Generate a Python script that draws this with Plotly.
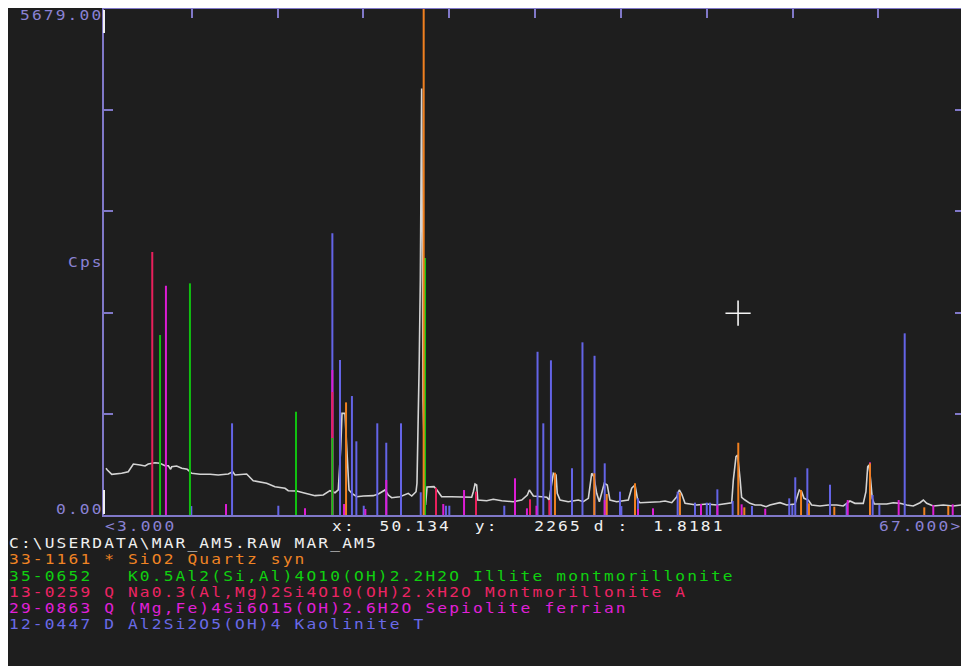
import plotly.graph_objects as go

# ---------------- data ----------------
# measured pattern (2-theta, counts per second)
meas_2theta = [3.00, 3.10, 3.43, 4.17, 4.66, 5.04, 5.54, 5.91, 6.15, 6.65, 7.03, 7.40, 7.65, 7.82, 7.90,
               8.27, 8.65, 9.06, 9.39, 10.01, 10.76, 11.37, 12.12, 12.45, 12.62, 13.49, 13.98, 14.48,
               14.98, 15.60, 16.35, 16.59, 17.22, 17.71, 18.09, 18.59, 19.20, 19.70, 20.08, 20.32,
               20.50, 20.60, 20.82, 20.93, 21.12, 21.34, 21.70, 22.19, 22.93, 23.31, 23.81, 24.05,
               24.30, 24.92, 25.30, 25.54, 25.80, 26.12, 26.19, 26.29, 26.36, 26.44, 26.47, 26.54,
               26.64, 26.83, 26.94, 27.46, 27.68, 28.03, 28.78, 29.64, 30.27, 30.39, 30.52, 30.64,
               30.72, 31.39, 31.88, 32.51, 33.37, 34.00, 34.42, 34.57, 34.74, 34.87, 35.49, 35.87,
               36.04, 36.18, 36.36, 36.56, 36.65, 36.86, 37.47, 38.22, 38.59, 38.97, 39.22, 39.39,
               39.59, 39.79, 39.97, 40.16, 40.38, 40.58, 41.08, 41.95, 42.20, 42.45, 42.65, 42.82,
               44.31, 44.69, 45.19, 45.56, 45.75, 45.93, 46.18, 47.05, 47.80, 48.54, 49.66, 49.78,
               49.98, 50.10, 50.28, 50.40, 50.65, 51.02, 51.40, 51.84, 52.22, 52.51, 53.26, 53.76,
               54.38, 54.55, 54.70, 54.88, 55.05, 55.37, 55.62, 56.24, 56.86, 57.49, 57.98, 58.48,
               58.85, 59.47, 59.67, 59.80, 59.90, 60.02, 60.14, 60.29, 61.22, 61.71, 62.21, 62.71,
               63.20, 63.70, 63.95, 64.20, 64.69, 65.44, 66.18, 66.76]
meas_cps = [524, 505, 456, 468, 486, 572, 561, 550, 572, 587, 580, 553, 553, 513, 542,
            550, 524, 513, 468, 457, 457, 449, 460, 486, 449, 460, 385, 374,
            356, 318, 300, 273, 269, 250, 232, 217, 224, 273, 250, 281,
            737, 1141, 1141, 842, 281, 243, 205, 213, 217, 236, 281, 224,
            194, 205, 224, 243, 213, 261, 356, 1085, 1739, 2637, 3852, 4788,
            1290, 112, 314, 318, 281, 205, 205, 205, 199, 261, 348, 337,
            168, 160, 176, 160, 149, 168, 224, 281, 247, 213, 205, 199,
            168, 303, 468, 449, 243, 168, 149, 168, 149, 187, 468, 430,
            243, 149, 261, 356, 337, 168, 149, 168, 300, 337, 168, 138,
            149, 157, 138, 205, 281, 236, 131, 112, 123, 112, 138, 393,
            654, 673, 412, 199, 168, 131, 112, 112, 93, 112, 138, 112,
            123, 205, 281, 261, 187, 168, 112, 101, 112, 112, 101, 157,
            131, 131, 261, 542, 561, 393, 187, 123, 123, 138, 131, 112,
            101, 138, 168, 131, 101, 112, 101, 112]

# reference stick patterns
quartz_2theta = [20.90, 26.69, 36.48, 39.41, 40.34, 42.45, 45.80, 50.15, 50.60, 54.83, 55.42,
                 57.31, 59.97, 64.02, 65.81]
quartz_cps = [1264, 5679, 475, 468, 236, 356, 250, 811, 86, 280, 131, 93, 580, 86, 101]

illite_2theta = [7.03, 9.26, 17.17, 19.88, 26.79]
illite_cps = [2020, 2600, 1159, 864, 2884]

montm_2theta = [6.45, 19.88, 27.61, 30.59, 34.62, 36.06]
montm_cps = [2951, 1380, 306, 262, 176, 168]

sepio_2theta = [7.47, 11.95, 17.84, 19.88, 20.75, 22.34, 23.90, 28.15, 29.70, 33.50, 34.39,
                35.10, 40.19, 42.67, 43.79, 47.37, 48.59, 50.40, 52.16, 58.31, 59.97, 62.11,
                64.69, 66.14]
sepio_cps = [2573, 123, 75, 1627, 123, 67, 393, 123, 280, 412, 75,
             104, 168, 67, 75, 123, 112, 120, 71, 168, 591, 168, 112, 120]

kaol_2theta = [9.36, 12.40, 15.85, 19.88, 20.45, 21.34, 21.67, 22.22, 23.23, 23.90, 25.00,
               26.47, 28.35, 28.60, 32.70, 35.18, 35.61, 36.18, 37.75, 38.53, 39.43, 40.19,
               41.33, 41.43, 42.67, 45.63, 46.92, 47.80, 48.04, 48.59, 49.73, 51.17, 53.95,
               54.18, 54.40, 55.30, 56.99, 58.23, 60.17, 60.67, 62.56]
kaol_cps = [100, 1029, 104, 3161, 1739, 1335, 827, 104, 1029, 811, 1029,
            255, 104, 104, 104, 1832, 1029, 1736, 524, 1938, 1787, 580,
            262, 100, 187, 262, 138, 138, 138, 288, 157, 101, 187,
            112, 423, 524, 340, 131, 224, 112, 2039]

cursor_2theta = [50.134]
cursor_cps = [2265]

y_max = 5679.0
x_start, x_end = 3.0, 67.0

header_lines = [
    ("C:\\USERDATA\\MAR_AM5.RAW MAR_AM5", "#f0f0f0"),
    ("33-1161 * SiO2 Quartz syn", "#f08424"),
    ("35-0652   K0.5Al2(Si,Al)4O10(OH)2.2H2O Illite montmorillonite", "#10d010"),
    ("13-0259 Q Na0.3(Al,Mg)2Si4O10(OH)2.xH2O Montmorillonite A", "#ec2464"),
    ("29-0863 Q (Mg,Fe)4Si6O15(OH)2.6H2O Sepiolite ferrian", "#e020d8"),
    ("12-0447 D Al2Si2O5(OH)4 Kaolinite T", "#6a6ae8"),
]
cursor_text = "x:  50.134  y:   2265 d :  1.8181"

# ---------------- styling ----------------
W, H = 961, 666
BG = "#1e1e1e"
AXIS = "#8078c8"
LAV = "#8a82d4"
FONT = "DejaVu Sans Mono"
FSIZE = 13.5
PITCH = 11.9          # character pitch of the reference's text, px
SCALE_X = 1.2
PX_PER_DEG = 13.41
PL, PT, PB = 104, 9, 515          # plot area edges in pixels
ORIGIN_PX = 106                    # pixel of 2theta = 3.0

x_range = [x_start - (ORIGIN_PX - PL) / PX_PER_DEG, x_start + (W - ORIGIN_PX) / PX_PER_DEG]
y_range = [0, y_max]


def sticks(pos, inten):
    xs, ys = [], []
    for p, i in zip(pos, inten):
        xs += [p, p, None]
        ys += [0, i, None]
    return xs, ys


fig = go.Figure()

fig.add_trace(go.Scatter(x=meas_2theta, y=meas_cps, mode="lines",
                         line=dict(color="#d4d4d4", width=1.6), showlegend=False, hoverinfo="skip"))

for pos, inten, col in [(kaol_2theta, kaol_cps, "#6464e6"),
                        (sepio_2theta, sepio_cps, "#dc1cd4"),
                        (montm_2theta, montm_cps, "#e8205c"),
                        (illite_2theta, illite_cps, "#10c010"),
                        (quartz_2theta, quartz_cps, "#f08020")]:
    xs, ys = sticks(pos, inten)
    fig.add_trace(go.Scatter(x=xs, y=ys, mode="lines", line=dict(color=col, width=2),
                             showlegend=False, hoverinfo="skip"))

fig.add_trace(go.Scatter(x=cursor_2theta, y=cursor_cps, mode="markers",
                         marker=dict(symbol="cross-thin", size=18,
                                     line=dict(color="#f4f4f4", width=1.6)),
                         showlegend=False, hoverinfo="skip"))

# dummy trace for the mirror axes
fig.add_trace(go.Scatter(x=[None], y=[None], xaxis="x2", yaxis="y2",
                         showlegend=False, hoverinfo="skip"))

x_dom = [PL / W, 1.0]
y_dom = [(H - PB) / H, (H - PT) / H]
top_ticks = [x_start + (x_end - x_start) * k / 10 for k in range(1, 10)]
side_ticks = [y_max * k / 5 for k in range(1, 5)]

fig.update_layout(
    width=W, height=H,
    margin=dict(l=0, r=0, t=0, b=0),
    paper_bgcolor=BG, plot_bgcolor=BG,
    showlegend=False, hovermode=False,
    xaxis=dict(domain=x_dom, range=x_range, showgrid=False, zeroline=False,
               showline=True, linecolor=AXIS, linewidth=2, ticks="",
               showticklabels=False, anchor="y"),
    xaxis2=dict(domain=x_dom, range=x_range, overlaying="x", side="top", anchor="y2",
                showgrid=False, zeroline=False, showline=True, linecolor=AXIS, linewidth=2,
                ticks="inside", tickvals=top_ticks, ticklen=9, tickwidth=2, tickcolor=AXIS,
                showticklabels=False),
    yaxis=dict(domain=y_dom, range=y_range, showgrid=False, zeroline=False,
               showline=True, linecolor=AXIS, linewidth=2, ticks="inside",
               tickvals=side_ticks, ticklen=9, tickwidth=2, tickcolor=AXIS,
               showticklabels=False, anchor="x"),
    yaxis2=dict(domain=y_dom, range=y_range, overlaying="y", side="right", anchor="x2",
                showgrid=False, zeroline=False, showline=False, ticks="inside",
                tickvals=side_ticks, ticklen=6, tickwidth=2, tickcolor=AXIS,
                showticklabels=False),
)


def px_x(px):
    return px / W


def px_y(py):
    return 1 - py / H


annots = []


def label(text, left_px, mid_px, color):
    annots.append(dict(text=text, x=px_x(left_px), y=px_y(mid_px), xref="paper", yref="paper",
                       xanchor="left", yanchor="middle", align="left", showarrow=False,
                       borderpad=0, font=dict(family=FONT, size=FSIZE, color=color)))


label(f"{y_max:.2f}", 19, 14.5, LAV)
label("Cps", 67, 262, LAV)
label(f"{0:.2f}", 55, 509, LAV)
label(f"<{x_start:.3f}", 104, 525.5, LAV)
label(cursor_text, 331, 525.5, "#f0f0f0")
label(f"{x_end:.3f}>", 878, 525.5, LAV)
for i, (txt, col) in enumerate(header_lines):
    label(txt, 8, 543 + i * 16.25, col)

fig.update_layout(annotations=annots)

# white window edges and cursor markers on the y axis
fig.update_layout(shapes=[
    dict(type="rect", xref="paper", yref="paper", x0=0, x1=8 / W, y0=0, y1=1,
         fillcolor="white", line=dict(width=0)),
    dict(type="rect", xref="paper", yref="paper", x0=0, x1=1, y0=1 - 8 / H, y1=1,
         fillcolor="white", line=dict(width=0)),
    dict(type="line", xref="paper", yref="paper", x0=PL / W, x1=PL / W,
         y0=px_y(33), y1=px_y(10), line=dict(color="#f0f0f0", width=2)),
    dict(type="line", xref="paper", yref="paper", x0=PL / W, x1=PL / W,
         y0=px_y(514), y1=px_y(490), line=dict(color="#f0f0f0", width=2)),
])

letter_sp = PITCH / SCALE_X - 0.602 * FSIZE
post = """
document.documentElement.style.overflow = 'hidden';
document.body.style.margin = '0';
document.body.style.overflow = 'hidden';
var gd = document.getElementById('{plot_id}');
gd.querySelectorAll('.annotation-text').forEach(function(t){
  t.style.letterSpacing = 'LSpx';
  t.style.transformBox = 'fill-box';
  t.style.transformOrigin = '0% 50%';
  t.style.transform = 'scaleX(SX)';
});
""".replace("LS", f"{letter_sp:.2f}").replace("SX", f"{SCALE_X:.3f}")

fig.write_html("out.html", post_script=post,
               config={"displayModeBar": False, "staticPlot": True})
